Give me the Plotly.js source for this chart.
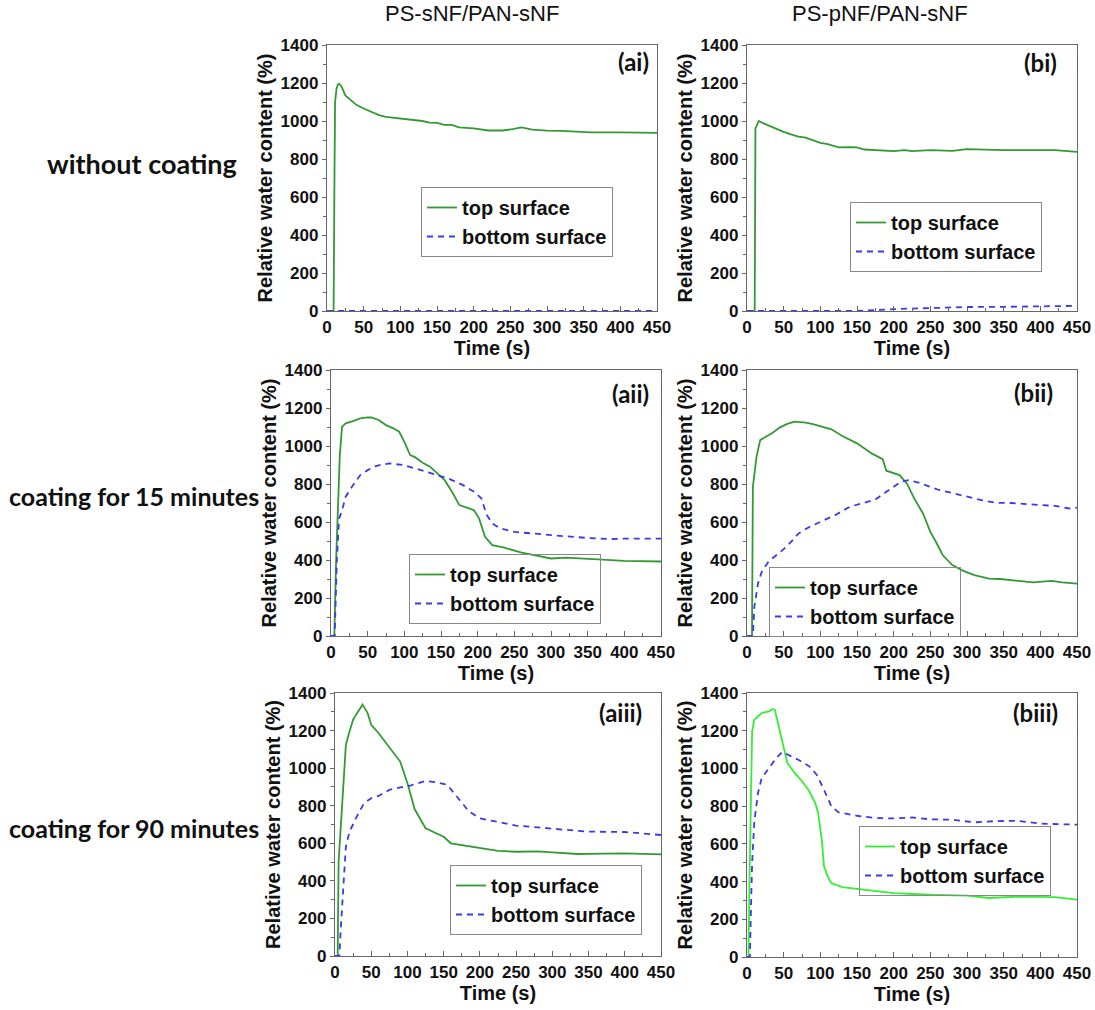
<!DOCTYPE html>
<html>
<head>
<meta charset="utf-8">
<script src="https://cdn.plot.ly/plotly-3.0.1.min.js"></script>
<style>html,body{margin:0;padding:0;background:#fff;}#chart{width:1095px;height:1010px;}</style>
</head>
<body>
<div id="chart"></div>
<script>
// ---- data (time in s, relative water content in %) ----
const ai_top_t = [0, 9, 10, 11, 13, 15, 17, 20, 25, 30, 40, 50, 60, 70, 80, 100, 120, 130, 140, 150, 160, 170, 180, 200, 220, 240, 255, 265, 280, 300, 320, 340, 360, 400, 450];
const ai_top_v = [0, 0, 600, 1100, 1170, 1193, 1195, 1180, 1135, 1118, 1085, 1066, 1050, 1032, 1022, 1012, 1005, 1000, 991, 990, 980, 980, 966, 961, 950, 950, 958, 966, 955, 949, 948, 945, 940, 940, 938];
const ai_bot_t = [0, 50, 100, 150, 200, 250, 300, 350, 400, 450];
const ai_bot_v = [0, 0, 0, 0, 0, 0, 0, 0, 0, 0];

const bi_top_t = [0, 10.5, 11.5, 13, 16, 20, 30, 40, 50, 60, 70, 80, 90, 100, 110, 125, 140, 150, 160, 180, 200, 215, 225, 250, 280, 300, 350, 420, 450];
const bi_top_v = [0, 0, 960, 975, 1000, 992, 975, 958, 943, 930, 918, 913, 899, 885, 878, 861, 862, 861, 850, 847, 841, 847, 841, 847, 843, 852, 847, 847, 838];
const bi_bot_t = [0, 100, 150, 200, 250, 300, 350, 400, 450];
const bi_bot_v = [0, 0, 0, 10, 15, 21, 22, 25, 27];

const aii_top_t = [0, 4.5, 7, 10, 12, 15, 20, 30, 40, 50, 55, 65, 75, 85, 93, 100, 108, 115, 125, 135, 145, 155, 165, 175, 185, 195, 202, 210, 220, 235, 260, 280, 300, 320, 350, 370, 400, 450];
const aii_top_v = [0, 0, 400, 768, 950, 1101, 1119, 1131, 1145, 1151, 1150, 1137, 1110, 1093, 1075, 1022, 952, 940, 912, 891, 855, 820, 759, 689, 676, 662, 618, 522, 478, 466, 439, 425, 408, 412, 408, 402, 395, 392];
const aii_bot_t = [0, 5, 8, 11, 15, 20, 30, 40, 50, 60, 70, 80, 100, 120, 140, 160, 180, 195, 205, 212, 220, 231, 250, 280, 300, 350, 380, 400, 450];
const aii_bot_v = [0, 0, 400, 618, 660, 733, 794, 847, 873, 893, 903, 908, 899, 877, 855, 829, 794, 759, 725, 640, 592, 566, 548, 540, 531, 516, 510, 513, 513];

const bii_top_t = [0, 6.8, 8, 10, 13, 18, 25, 35, 45, 55, 65, 80, 90, 100, 115, 130, 150, 170, 185, 190, 200, 208, 218, 228, 240, 250, 257, 267, 280, 295, 310, 330, 345, 370, 390, 415, 430, 450];
const bii_top_v = [0, 0, 785, 850, 944, 1031, 1046, 1070, 1098, 1116, 1128, 1123, 1115, 1105, 1088, 1053, 1014, 961, 931, 870, 859, 847, 803, 724, 645, 548, 500, 425, 373, 343, 320, 302, 300, 288, 282, 290, 282, 276];
const bii_bot_t = [0, 8, 10, 15, 20, 30, 40, 50, 60, 70, 85, 100, 120, 140, 160, 175, 190, 210, 220, 235, 260, 290, 320, 340, 360, 400, 420, 440, 450];
const bii_bot_v = [0, 0, 153, 276, 337, 395, 425, 457, 495, 539, 574, 601, 636, 680, 701, 718, 759, 812, 820, 806, 771, 741, 715, 701, 700, 689, 685, 671, 676];

const aiii_top_t = [0, 3.7, 5, 8, 12, 15, 20, 25, 30, 38, 45, 50, 60, 70, 80, 90, 100, 110, 125, 150, 160, 175, 200, 225, 250, 280, 300, 335, 370, 400, 450];
const aiii_top_v = [0, 0, 502, 688, 902, 1124, 1195, 1258, 1290, 1338, 1293, 1231, 1187, 1137, 1089, 1035, 920, 781, 680, 635, 600, 591, 573, 560, 555, 557, 552, 543, 545, 546, 541];
const aiii_bot_t = [0, 6, 8, 12, 15, 20, 25, 30, 40, 50, 60, 75, 90, 100, 110, 125, 140, 155, 170, 185, 200, 225, 250, 280, 300, 320, 350, 400, 450];
const aiii_bot_v = [0, 0, 150, 404, 582, 662, 706, 742, 813, 840, 852, 884, 898, 902, 915, 932, 925, 911, 840, 769, 733, 715, 694, 685, 680, 671, 662, 660, 644];

const biii_top_t = [0, 2, 3, 5, 7, 10, 20, 30, 35, 38, 45, 50, 55, 65, 75, 85, 93, 97, 102, 105, 110, 115, 130, 150, 200, 250, 300, 330, 370, 420, 450];
const biii_top_v = [0, 0, 300, 799, 1197, 1258, 1294, 1303, 1315, 1310, 1188, 1100, 1029, 976, 932, 879, 817, 764, 622, 481, 428, 392, 371, 361, 339, 330, 325, 313, 320, 318, 304];
const biii_bot_t = [0, 4, 5, 7, 10, 15, 20, 30, 40, 48, 55, 70, 85, 95, 105, 115, 125, 150, 175, 200, 225, 250, 280, 310, 340, 370, 400, 450];
const biii_bot_v = [0, 0, 198, 500, 719, 870, 949, 1002, 1055, 1087, 1073, 1046, 1011, 967, 887, 799, 767, 749, 737, 735, 740, 730, 728, 714, 721, 722, 707, 702];

const seriesNames = ['top surface', 'bottom surface'];
const panelLabels = ['(ai)', '(bi)', '(aii)', '(bii)', '(aiii)', '(biii)'];
const columnTitles = ['PS-sNF/PAN-sNF', 'PS-pNF/PAN-sNF'];
const rowTitles = ['without coating', 'coating for 15 minutes', 'coating for 90 minutes'];
const xTitle = 'Time (s)';
const yTitle = 'Relative water content (%)';

// ---- layout geometry (pixels) ----
const W = 1095, H = 1010;
const panels = [
  {x:[327,657], y:[45,311], top:[ai_top_t, ai_top_v], bot:[ai_bot_t, ai_bot_v], topColor:'#339933', leg:[517,222], lab:[633,61]},
  {x:[747,1077], y:[45,311], top:[bi_top_t, bi_top_v], bot:[bi_bot_t, bi_bot_v], topColor:'#339933', leg:[946,237], lab:[1040,62]},
  {x:[331,661], y:[370,636], top:[aii_top_t, aii_top_v], bot:[aii_bot_t, aii_bot_v], topColor:'#339933', leg:[505,589], lab:[630,393]},
  {x:[747,1077], y:[370,636], top:[bii_top_t, bii_top_v], bot:[bii_bot_t, bii_bot_v], topColor:'#339933', leg:[865,602], lab:[1033,392]},
  {x:[335,661], y:[693,956], top:[aiii_top_t, aiii_top_v], bot:[aiii_bot_t, aiii_bot_v], topColor:'#339933', leg:[546,900], lab:[620,712]},
  {x:[747,1077], y:[693,957], top:[biii_top_t, biii_top_v], bot:[biii_bot_t, biii_bot_v], topColor:'#33ee33', leg:[955,861], lab:[1035,712]}
];

const tickFont = {family:'"Liberation Sans", Arial, sans-serif', size:17, color:'#111', weight:700};
const titleFont = {family:'"Liberation Sans", Arial, sans-serif', size:20, color:'#111', weight:700};
const frameColor = '#666';

const data = [];
const layout = {
  width: W, height: H, autosize:false,
  margin:{l:0, r:0, t:0, b:0},
  paper_bgcolor:'#fff', plot_bgcolor:'#fff',
  showlegend:true,
  annotations:[]
};

panels.forEach((p, i) => {
  const n = i === 0 ? '' : String(i + 1);
  const xa = 'xaxis' + n, ya = 'yaxis' + n;
  const legName = i === 0 ? 'legend' : 'legend' + (i + 1);
  layout[xa] = {
    domain:[p.x[0]/W, p.x[1]/W], anchor:'y' + n, range:[0,450], dtick:50,
    showline:true, mirror:true, linecolor:frameColor, linewidth:1.2,
    ticks:'inside', ticklen:5, tickcolor:frameColor, tickwidth:1,
    minor:{dtick:25, ticks:'inside', ticklen:3, tickcolor:frameColor},
    showgrid:false, zeroline:false, tickfont:tickFont, automargin:false,
    title:{text:xTitle, font:titleFont, standoff:0}
  };
  layout[ya] = {
    domain:[1 - p.y[1]/H, 1 - p.y[0]/H], anchor:'x' + n, range:[0,1400], dtick:200,
    showline:true, mirror:true, linecolor:frameColor, linewidth:1.2,
    ticks:'outside', ticklen:4, tickcolor:frameColor, tickwidth:1,
    minor:{dtick:100, ticks:'outside', ticklen:3, tickcolor:frameColor},
    showgrid:false, zeroline:false, tickfont:tickFont, automargin:false,
    title:{text:yTitle, font:titleFont, standoff:2}
  };
  layout[legName] = {
    x:p.leg[0]/W, y:1 - p.leg[1]/H, xanchor:'center', yanchor:'middle', xref:'paper', yref:'paper',
    bgcolor:'rgba(255,255,255,0)', bordercolor:'#888', borderwidth:1,
    font:{family:'"Liberation Sans", Arial, sans-serif', size:20, color:'#111', weight:700},
    tracegroupgap:0, itemwidth:30
  };
  data.push({x:p.top[0], y:p.top[1], xaxis:'x'+n, yaxis:'y'+n, mode:'lines', name:seriesNames[0],
    line:{color:p.topColor, width:1.8}, legend:legName});
  data.push({x:p.bot[0], y:p.bot[1], xaxis:'x'+n, yaxis:'y'+n, mode:'lines', name:seriesNames[1],
    line:{color:'#3a3ae6', width:1.8, dash:'6px,5px'}, legend:legName});
  layout.annotations.push({text:panelLabels[i], xref:'paper', yref:'paper', x:p.lab[0]/W, y:1 - p.lab[1]/H,
    xanchor:'center', yanchor:'middle', showarrow:false,
    font:{family:'Lato, "Open Sans", sans-serif', size:24, color:'#111', weight:700}});
});

const colX = [472, 880];
columnTitles.forEach((t, i) => layout.annotations.push({text:t, xref:'paper', yref:'paper', x:colX[i]/W, y:1 - 13/H,
  xanchor:'center', yanchor:'middle', showarrow:false, font:{family:'"Liberation Sans", Arial, sans-serif', size:22, color:'#111'}}));
const rowY = [163, 496, 828];
const rowX = [142, 134, 134];
const rowSize = [27, 25, 25];
rowTitles.forEach((t, i) => layout.annotations.push({text:t, xref:'paper', yref:'paper', x:rowX[i]/W, y:1 - rowY[i]/H,
  xanchor:'center', yanchor:'middle', showarrow:false, font:{family:'Lato, "Open Sans", sans-serif', size:rowSize[i], color:'#111', weight:700}}));

Plotly.newPlot('chart', data, layout, {staticPlot:true, displayModeBar:false});
</script>
</body>
</html>
